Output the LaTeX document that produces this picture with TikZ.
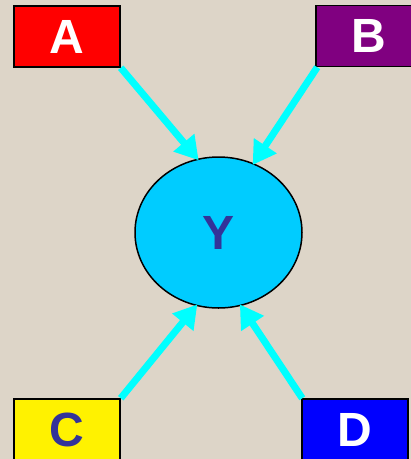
\documentclass[tikz,border=0pt]{standalone}
\usepackage{fontspec}
\setmainfont{Liberation Sans}
\usetikzlibrary{arrows.meta,shapes.geometric}
\definecolor{bgc}{HTML}{DDD5C8}
\definecolor{ycol}{HTML}{00CCFF}
\definecolor{arr}{HTML}{00FFFF}
\definecolor{navy}{HTML}{333399}
\definecolor{purp}{HTML}{800080}
\begin{document}
\begin{tikzpicture}[x=1pt,y=-1pt,
  box/.style={draw=black,line width=1.5pt,minimum width=106pt,minimum height=61pt,inner sep=0pt,
    font=\fontsize{48}{48}\selectfont\bfseries},
  feed/.style={draw=arr,line width=7pt,-{Triangle[length=23pt,width=26pt]},shorten >=-2pt}]
\clip (0,0) rectangle (411,459);
\fill[bgc] (0,0) rectangle (411,459);
\node[box,fill=red,text=white] (A) at (67,36.5) {A};
\node[box,fill=purp,text=white] (B) at (369,36) {B};
\node[box,fill=yellow,text=navy] (C) at (67,429.5) {C};
\node[box,fill=blue,text=white] (D) at (355,429.5) {D};
\node[ellipse,draw=black,line width=1.5pt,fill=ycol,minimum width=167pt,minimum height=151pt,inner sep=0pt,
  text=navy,font=\fontsize{48}{48}\selectfont\bfseries] (Y) at (218.5,232.5) {Y};
\draw[feed] (A.south east) -- (Y.106);
\draw[feed] ([xshift=2pt]B.south west) -- (Y.63);
\draw[feed] (C.north east) -- (Y.253);
\draw[feed] ([xshift=1pt]D.north west) -- (Y.287);
\end{tikzpicture}
\end{document}
